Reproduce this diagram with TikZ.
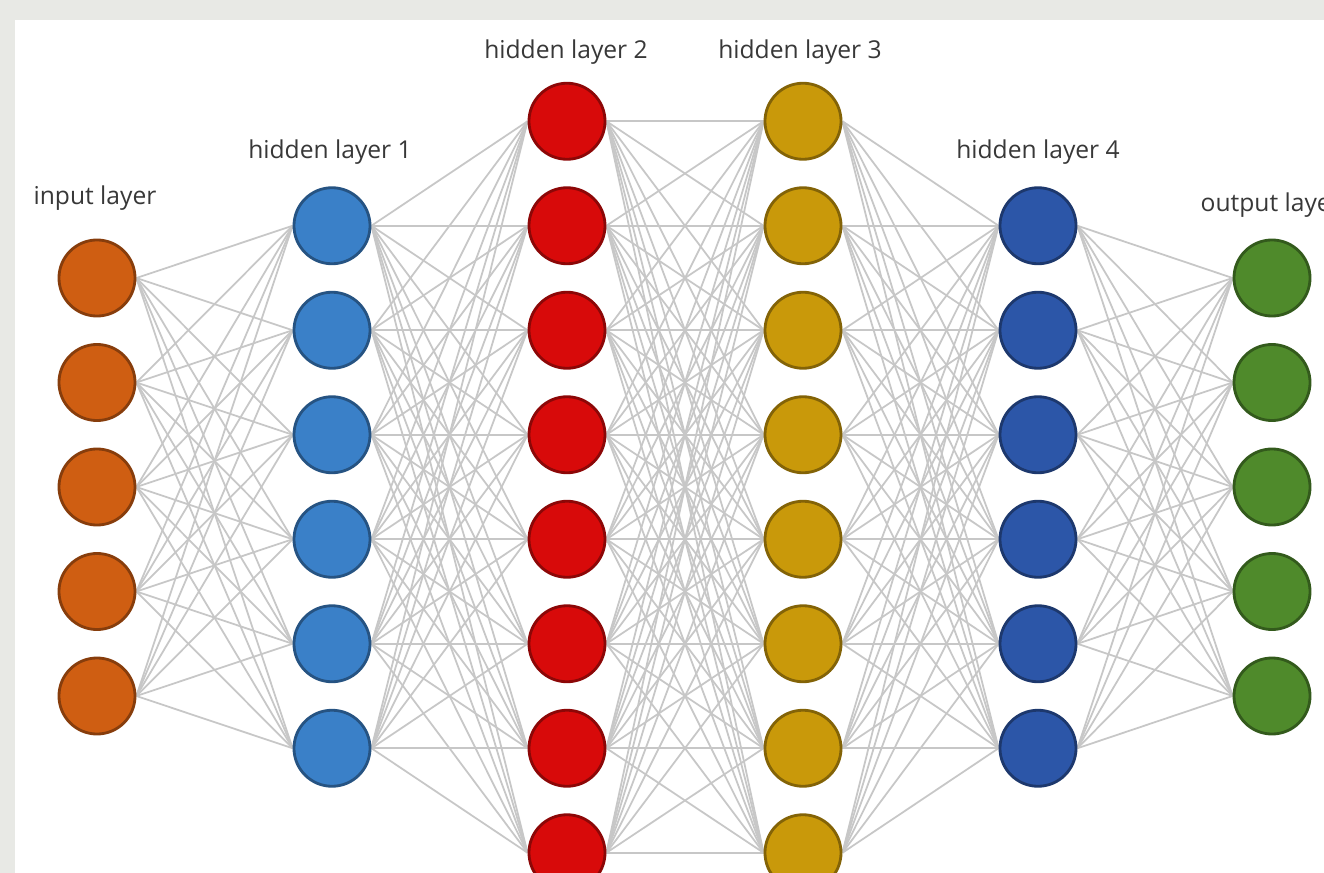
\documentclass[tikz,border=0pt]{standalone}
\usepackage{fontspec}
\setmainfont{Open Sans}
\definecolor{pagegray}{HTML}{E8E9E5}
\definecolor{inputc}{HTML}{CF5E12}
\definecolor{hidA}{HTML}{3A80C8}
\definecolor{hidB}{HTML}{D80A0A}
\definecolor{hidC}{HTML}{C9990A}
\definecolor{hidD}{HTML}{2C56A8}
\definecolor{outc}{HTML}{4F8A2B}
\pgfdeclarelayer{panel}
\pgfdeclarelayer{links}
\pgfsetlayers{panel,links,main}
\tikzset{
	neuron/.style={circle, minimum size=0.76cm, inner sep=0pt, fill=#1, draw=#1!65!black, line width=0.8pt},
	link/.style={draw=black!22, line width=0.5pt},
	layername/.style={font=\fontsize{7}{8}\selectfont, text=black!78, inner sep=0pt}
}
\begin{document}
\begin{tikzpicture}[x=0.01cm,y=-0.01cm]
	\useasboundingbox (0,0) rectangle (1324,873);
	\clip (0,0) rectangle (1324,873);
	
	% page and panel
	\begin{pgfonlayer}{panel}
		\fill[pagegray] (0,0) rectangle (1324,873);
		\fill[white] (15,20) rectangle (1324,873);
	\end{pgfonlayer}
	
	% the neurons
	\foreach \l/\x/\n/\c in {1/97/5/inputc,2/332/6/hidA,3/567/8/hidB,4/803/8/hidC,5/1038/6/hidD,6/1272/5/outc}
	\foreach \i in {1,...,\n}
	\node[neuron=\c] (n\l-\i) at (\x,{487+(\i-(\n+1)/2)*104.5}) {};
	
	% every neuron to every neuron of the next layer
	\begin{pgfonlayer}{links}
		\foreach \l/\n/\m in {1/5/6,2/6/8,3/8/8,4/8/6,5/6/5}
		{
			\pgfmathtruncatemacro{\k}{\l+1}
			\foreach \i in {1,...,\n}
			\foreach \j in {1,...,\m}
			\draw[link] (n\l-\i.east) -- (n\k-\j.west);
		}
	\end{pgfonlayer}
	
	% layer labels
	\node[layername] (lbl1) at (95,198) {input layer};
	\node[layername] (lbl2) at (330,152) {hidden layer 1};
	\node[layername] (lbl3) at (566,52) {hidden layer 2};
	\node[layername] (lbl4) at (800,52) {hidden layer 3};
	\node[layername] (lbl5) at (1038,152) {hidden layer 4};
	\node[layername,anchor=west] (lbl6) at (1200,205) {output layer};
	
\end{tikzpicture}
\end{document}
